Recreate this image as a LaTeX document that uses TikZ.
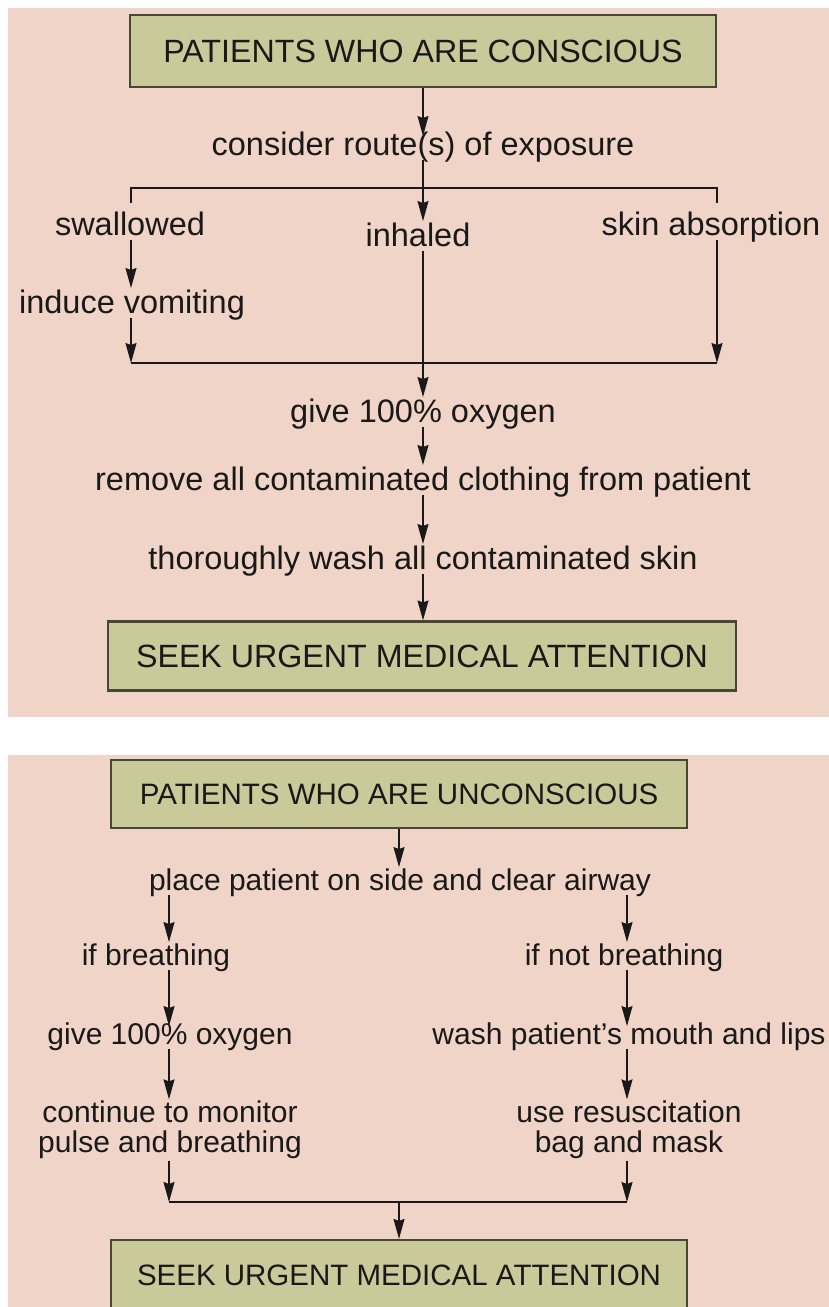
\documentclass[tikz,border=0pt]{standalone}
\usepackage{fontspec}
\setmainfont{Liberation Sans}
\usetikzlibrary{positioning, arrows.meta, calc}
\definecolor{cBg}{RGB}{240,212,199}
\definecolor{cBox}{RGB}{201,201,153}
\definecolor{cEdge}{RGB}{70,72,52}
\definecolor{cInk}{RGB}{25,25,25}

\begin{document}
\begin{tikzpicture}[x=1pt, y=-1pt, color=cInk, line width=1.3pt,
                    >={Stealth[length=20pt, width=11pt, inset=2pt]},
                    upper/.style={font=\fontsize{32.5}{30}\selectfont, inner xsep=0pt, inner ysep=1pt,
                                  text height=23.4pt, text depth=3.3pt},
                    lower/.style={font=\fontsize{30}{30}\selectfont, inner xsep=0pt, inner ysep=1pt,
                                  text height=21.6pt, text depth=3pt},
                    pair/.style={font=\fontsize{30}{30}\selectfont, align=center, inner sep=1pt},
                    banner/.style={draw=cEdge, fill=cBox, line width=2.2pt, inner sep=0pt}]

    % Page and panels
    \useasboundingbox (0,0) rectangle (829,1307);
    \fill[white] (0,0) rectangle (829,1307);
    \fill[cBg] (8,8) rectangle (829,717);
    \fill[cBg] (8,755) rectangle (829,1307);

    % Conscious patients
    \node[banner, minimum width=586pt, minimum height=72pt, font=\fontsize{32.2}{36}\selectfont]
          (conscious) at (423,51) {PATIENTS WHO ARE CONSCIOUS};
    \node[upper] (route)   at (423,145) {consider route(s) of exposure};
    \node[upper] (swallow) at (130,225) {swallowed};
    \node[upper] (inhale)  at (418,236) {inhaled};
    \node[upper] (skin)    at (711,225) {skin absorption};
    \node[upper] (vomit)   at (132,303) {induce vomiting};
    \node[upper] (oxyA)    at (423,412) {give 100\% oxygen};
    \node[upper] (clothes) at (423,480) {remove all contaminated clothing from patient};
    \node[upper] (scrub)   at (423,559) {thoroughly wash all contaminated skin};
    \node[banner, minimum width=628pt, minimum height=69pt, font=\fontsize{32.2}{36}\selectfont]
          (seekA) at (422,656) {SEEK URGENT MEDICAL ATTENTION};

    \coordinate (brL) at (131,188);
    \coordinate (brR) at (717,188);
    \coordinate (jL)  at (131,363);
    \coordinate (jR)  at (717,363);

    \draw[->, shorten >=-6pt] (conscious.south) -- (conscious.south |- route.north);
    \draw[->] (route.south) -- (route.south |- inhale.north);
    \draw[shorten <=7pt, shorten >=7pt] (brL |- swallow.north) -- (brL) -- (brR) -- (brR |- skin.north);
    \draw[->] (swallow.south -| brL) -- (vomit.north -| brL);
    \draw[->] (vomit.south -| jL) -- (jL);
    \draw[->] (skin.south -| jR) -- (jR);
    \draw (jL) -- (jR);
    \draw[->] (inhale.south -| route.south) -- (oxyA.north);
    \draw[->] (oxyA) -- (clothes);
    \draw[->] (clothes) -- (scrub);
    \draw[->] (scrub.south) -- (scrub.south |- seekA.north);

    % Unconscious patients
    \node[banner, minimum width=576pt, minimum height=68pt, font=\fontsize{29.5}{33}\selectfont]
          (unconscious) at (399,794) {PATIENTS WHO ARE UNCONSCIOUS};
    \node[lower] (airway)   at (400,881)  {place patient on side and clear airway};
    \node[lower] (breath)   at (156,956)  {if breathing};
    \node[lower] (nobreath) at (624,956)  {if not breathing};
    \node[lower] (oxyB)     at (170,1035) {give 100\% oxygen};
    \node[lower] (lips)     at (629,1035) {wash patient's mouth and lips};
    \node[pair]  (monitor)  at (170,1130) {continue to monitor\\pulse and breathing};
    \node[pair]  (bagmask)  at (629,1130) {use resuscitation\\bag and mask};
    \node[banner, minimum width=576pt, minimum height=70pt, font=\fontsize{29.5}{33}\selectfont]
          (seekB) at (399,1275) {SEEK URGENT MEDICAL ATTENTION};

    \coordinate (jA) at (169,1202);
    \coordinate (jB) at (627,1202);

    \draw[->] (unconscious.south) -- (unconscious.south |- airway.north);
    \draw[->] (airway.south -| jA) -- (breath.north -| jA);
    \draw[->] (airway.south -| jB) -- (nobreath.north -| jB);
    \draw[->, shorten >=-5pt] (breath.south -| jA) -- (oxyB.north -| jA);
    \draw[->, shorten >=-5pt] (nobreath.south -| jB) -- (lips.north -| jB);
    \draw[->] (oxyB.south -| jA) -- (monitor.north -| jA);
    \draw[->] (lips.south -| jB) -- (bagmask.north -| jB);
    \draw[->] (monitor.south -| jA) -- (jA);
    \draw[->] (bagmask.south -| jB) -- (jB);
    \draw (jA) -- (jB);
    \draw[->] (seekB.north |- jA) -- (seekB.north);
\end{tikzpicture}
\end{document}
